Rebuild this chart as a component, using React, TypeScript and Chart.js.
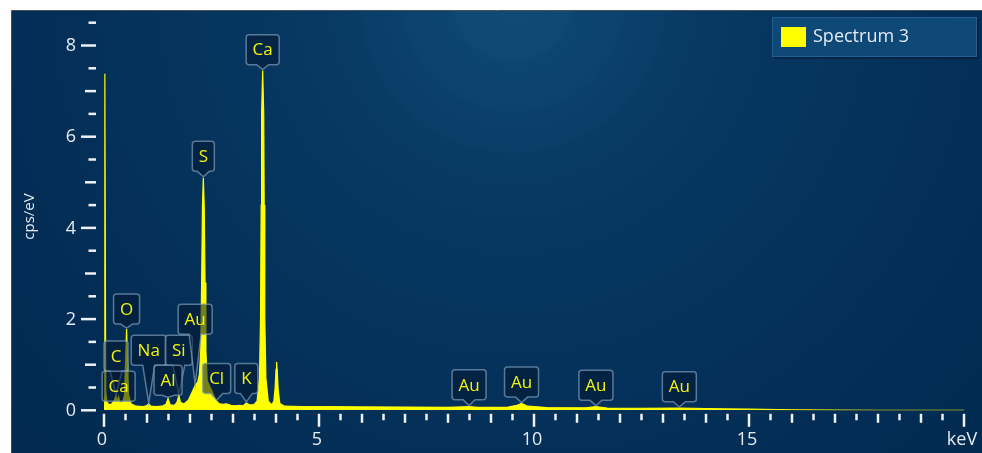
import React, { useEffect, useRef } from 'react';
import { Chart, registerables } from 'chart.js';

Chart.register(...registerables);

// ---- spectrum data (keV, cps/eV) ----
const energies = [
  0.0, 0.02, 0.04, 0.07, 0.12, 0.18, 0.23, 0.28, 0.31, 0.34, 0.37, 0.43, 0.48, 0.505, 0.525, 0.545, 0.57, 0.63,
  0.75, 0.9, 0.99, 1.04, 1.09, 1.2, 1.35, 1.44, 1.49, 1.54, 1.64, 1.7, 1.74, 1.78, 1.86, 1.96, 2.04, 2.12, 2.18,
  2.22, 2.25, 2.27, 2.29, 2.31, 2.33, 2.35, 2.37, 2.4, 2.46, 2.52, 2.57, 2.62, 2.67, 2.75, 2.85, 2.95, 3.05, 3.15,
  3.24, 3.31, 3.38, 3.48, 3.56, 3.615, 3.64, 3.655, 3.665, 3.69, 3.715, 3.725, 3.74, 3.765, 3.82, 3.9, 3.95, 3.98,
  4.0, 4.013, 4.03, 4.05, 4.09, 4.2, 4.6, 5.2, 6.0, 7.0, 8.0, 8.49, 8.7, 9.4, 9.6, 9.71, 9.85, 10.3, 11.2, 11.44,
  11.7, 12.5, 13.38, 14.0, 15.0, 16.0, 17.0, 18.0, 20.0,
];
const counts = [
  0.3, 7.38, 0.4, 0.18, 0.12, 0.14, 0.2, 0.32, 0.2, 0.3, 0.18, 0.16, 0.35, 1.2, 1.78, 1.2, 0.35, 0.14,
  0.09, 0.08, 0.1, 0.14, 0.09, 0.08, 0.09, 0.13, 0.26, 0.12, 0.11, 0.18, 0.33, 0.17, 0.14, 0.22, 0.38, 0.55, 0.62,
  0.8, 1.3, 2.8, 4.5, 5.1, 4.5, 2.8, 1.3, 0.65, 0.52, 0.4, 0.28, 0.2, 0.15, 0.13, 0.14, 0.11, 0.1, 0.11,
  0.1, 0.16, 0.12, 0.12, 0.2, 0.7, 2.0, 4.5, 6.5, 7.45, 6.5, 4.5, 2.0, 0.7, 0.2, 0.12, 0.2, 0.5,
  0.9, 1.06, 0.88, 0.45, 0.15, 0.09, 0.08, 0.08, 0.075, 0.07, 0.065, 0.08, 0.065, 0.07, 0.11, 0.15, 0.09, 0.06, 0.055, 0.08,
  0.05, 0.045, 0.05, 0.035, 0.025, 0.012, 0.004, 0, 0,
];
const seriesName = 'Spectrum 3';

// ---- peak labels ----
const peakElements = ['Ca', 'S', 'O', 'C', 'Ca', 'Na', 'Si', 'Al', 'Au', 'Cl', 'K', 'Au', 'Au', 'Au', 'Au'];
const peakEnergies = [3.69, 2.31, 0.525, 0.28, 0.34, 1.04, 1.74, 1.49, 2.12, 2.62, 3.31, 8.49, 9.71, 11.44, 13.38];
const peakBoxLevels = [7.58, 5.24, 1.89, 0.86, 0.2, 0.99, 0.99, 0.33, 1.67, 0.37, 0.37, 0.23, 0.29, 0.22, 0.19];

// ---- axes ----
const xMin = 0;
const xMax = 20;
const xTickStep = 0.5;
const xTickLabels = ['0', '5', '10', '15', 'keV'];
const xLabelValues = [0, 5, 10, 15, 20];
const yMin = 0;
const yMax = 8.5;
const yTickStep = 0.5;
const yTickLabels = ['0', '2', '4', '6', '8'];
const yLabelValues = [0, 2, 4, 6, 8];
const yTitle = 'cps/eV';

const FONT = "'Open Sans', 'Noto Sans', 'DejaVu Sans', sans-serif";
const TEXT_COLOR = '#e4ebf2';
const YELLOW = '#ffff00';

function valueAt(e: number): number {
  for (let i = 0; i < energies.length - 1; i++) {
    if (e >= energies[i] && e <= energies[i + 1]) {
      const t = (e - energies[i]) / (energies[i + 1] - energies[i] || 1);
      return counts[i] + t * (counts[i + 1] - counts[i]);
    }
  }
  return 0;
}

const backgroundPlugin = {
  id: 'panelBg',
  beforeDraw(chart: any) {
    const { ctx, width, height } = chart;
    ctx.save();
    ctx.fillStyle = '#ffffff';
    ctx.fillRect(0, 0, width, height);
    const px = 12, py = 11;
    const g = ctx.createRadialGradient(513, 0, 0, 513, 0, 690);
    g.addColorStop(0, '#0f4b75');
    g.addColorStop(0.085, '#0e4974');
    g.addColorStop(0.09, '#0c4570');
    g.addColorStop(0.16, '#0b436e');
    g.addColorStop(0.165, '#0a406b');
    g.addColorStop(0.22, '#093e69');
    g.addColorStop(0.225, '#083b66');
    g.addColorStop(0.32, '#073862');
    g.addColorStop(0.5, '#05335c');
    g.addColorStop(0.75, '#032d55');
    g.addColorStop(1, '#022a50');
    ctx.fillStyle = g;
    ctx.fillRect(px, py, width - px, height - py);
    ctx.strokeStyle = '#4a4f55';
    ctx.lineWidth = 1;
    ctx.beginPath();
    ctx.moveTo(px - 0.5, height);
    ctx.lineTo(px - 0.5, py - 0.5);
    ctx.lineTo(width, py - 0.5);
    ctx.stroke();
    ctx.restore();
  },
};

const axesPlugin = {
  id: 'edsAxes',
  afterDraw(chart: any) {
    const { ctx } = chart;
    const xs = chart.scales.x;
    const ys = chart.scales.y;
    const area = chart.chartArea;
    ctx.save();
    ctx.strokeStyle = '#eef2f6';
    ctx.lineCap = 'butt';
    ctx.lineWidth = 2.5;
    for (let v = yMin; v <= yMax + 1e-9; v += yTickStep) {
      const y = ys.getPixelForValue(v);
      const isMajor = yLabelValues.some((m) => Math.abs(m - v) < 1e-6);
      const isInt = Math.abs(v - Math.round(v)) < 1e-6;
      const len = isMajor ? 15 : isInt ? 11 : 7.5;
      const right = area.left - 8;
      ctx.beginPath();
      ctx.moveTo(right - len, y);
      ctx.lineTo(right, y);
      ctx.stroke();
    }
    for (let v = xMin; v <= xMax + 1e-9; v += xTickStep) {
      const x = xs.getPixelForValue(v);
      const isMajor = xLabelValues.some((m) => Math.abs(m - v) < 1e-6);
      const isInt = Math.abs(v - Math.round(v)) < 1e-6;
      const len = isMajor ? 13 : isInt ? 9 : 6.5;
      const top = area.bottom + 3.5;
      ctx.beginPath();
      ctx.moveTo(x, top);
      ctx.lineTo(x, top + len);
      ctx.stroke();
    }
    ctx.fillStyle = TEXT_COLOR;
    ctx.font = `18px ${FONT}`;
    ctx.textBaseline = 'middle';
    ctx.textAlign = 'right';
    yLabelValues.forEach((v, i) => {
      ctx.fillText(yTickLabels[i], area.left - 28, ys.getPixelForValue(v) + 0.5);
    });
    ctx.textAlign = 'center';
    xLabelValues.forEach((v, i) => {
      ctx.fillText(xTickLabels[i], xs.getPixelForValue(v) - 2, area.bottom + 30);
    });
    ctx.save();
    ctx.translate(30, (area.top + area.bottom) / 2);
    ctx.rotate(-Math.PI / 2);
    ctx.font = `15px ${FONT}`;
    ctx.textAlign = 'center';
    ctx.textBaseline = 'middle';
    ctx.fillText(yTitle, 0, 0);
    ctx.restore();
    ctx.restore();
  },
};

const peakLabelPlugin = {
  id: 'peakLabels',
  afterDatasetsDraw(chart: any) {
    const { ctx } = chart;
    const xs = chart.scales.x;
    const ys = chart.scales.y;
    ctx.save();
    ctx.font = `17px ${FONT}`;
    peakElements.forEach((name, i) => {
      const cx = xs.getPixelForValue(peakEnergies[i]);
      const b = ys.getPixelForValue(peakBoxLevels[i]);
      const tip = ys.getPixelForValue(valueAt(peakEnergies[i])) - 1;
      const w = Math.round(ctx.measureText(name).width + 13);
      const h = 30;
      const l = cx - w / 2;
      const r = cx + w / 2;
      const t = b - h;
      const rad = 3;
      const hw = 6;
      ctx.beginPath();
      ctx.moveTo(l + rad, t);
      ctx.lineTo(r - rad, t);
      ctx.quadraticCurveTo(r, t, r, t + rad);
      ctx.lineTo(r, b - rad);
      ctx.quadraticCurveTo(r, b, r - rad, b);
      if (tip > b + 1) {
        ctx.lineTo(cx + hw, b);
        ctx.lineTo(cx, tip);
        ctx.lineTo(cx - hw, b);
      }
      ctx.lineTo(l + rad, b);
      ctx.quadraticCurveTo(l, b, l, b - rad);
      ctx.lineTo(l, t + rad);
      ctx.quadraticCurveTo(l, t, l + rad, t);
      ctx.closePath();
      ctx.fillStyle = 'rgba(3, 24, 50, 0.55)';
      ctx.fill();
      ctx.strokeStyle = 'rgba(125, 155, 182, 0.7)';
      ctx.lineWidth = 1.5;
      ctx.stroke();
      ctx.fillStyle = '#f2f20a';
      ctx.textAlign = 'center';
      ctx.textBaseline = 'middle';
      ctx.fillText(name, cx, t + h / 2 + 1);
    });
    ctx.restore();
  },
};

const legendPlugin = {
  id: 'boxLegend',
  afterDraw(chart: any) {
    const { ctx } = chart;
    ctx.save();
    const x = 772, y = 17, w = 205, h = 40;
    ctx.fillStyle = 'rgba(0, 10, 25, 0.35)';
    ctx.fillRect(x + 2, y + 2, w, h);
    ctx.fillStyle = '#0d4876';
    ctx.fillRect(x, y, w, h);
    ctx.strokeStyle = 'rgba(40, 100, 150, 0.8)';
    ctx.lineWidth = 1;
    ctx.strokeRect(x + 0.5, y + 0.5, w - 1, h - 1);
    ctx.fillStyle = YELLOW;
    ctx.fillRect(781, 27, 25, 20);
    ctx.fillStyle = TEXT_COLOR;
    ctx.font = `18px ${FONT}`;
    ctx.textAlign = 'left';
    ctx.textBaseline = 'middle';
    ctx.fillText(chart.data.datasets[0].label, 813, 37);
    ctx.restore();
  },
};

export default function App() {
  const ref = useRef<HTMLCanvasElement>(null);
  useEffect(() => {
    const canvas = ref.current;
    if (!canvas) return;
    const chart = new Chart(canvas, {
      type: 'line',
      data: {
        datasets: [
          {
            label: seriesName,
            data: energies.map((e, i) => ({ x: e, y: counts[i] })),
            borderColor: YELLOW,
            backgroundColor: YELLOW,
            borderWidth: 1.2,
            fill: 'origin',
            pointRadius: 0,
            tension: 0,
          },
        ],
      },
      options: {
        responsive: false,
        animation: false,
        devicePixelRatio: 1,
        layout: { padding: { left: 104, right: 18, top: 22.7, bottom: 42.7 } },
        scales: {
          x: { type: 'linear', min: xMin, max: xMax, display: false },
          y: { type: 'linear', min: yMin, max: yMax, display: false },
        },
        plugins: { legend: { display: false }, tooltip: { enabled: false } },
        events: [],
      },
      plugins: [backgroundPlugin, axesPlugin, peakLabelPlugin, legendPlugin],
    } as any);
    return () => chart.destroy();
  }, []);
  return (
    <div style={{ position: 'fixed', left: 0, top: 0, width: 982, height: 453 }}>
      <canvas ref={ref} width={982} height={453} style={{ display: 'block', width: 982, height: 453 }} />
    </div>
  );
}
